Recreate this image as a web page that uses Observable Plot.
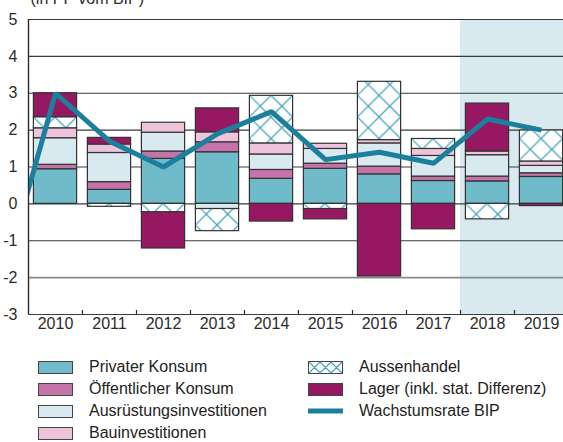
<!DOCTYPE html>
<html>
<head>
<meta charset="utf-8">
<script src="https://cdn.jsdelivr.net/npm/d3@7"></script>
<script src="https://cdn.jsdelivr.net/npm/@observablehq/plot@0.6"></script>
<style>
  html, body { margin: 0; padding: 0; background: #fff; overflow: hidden; }
  body { width: 563px; height: 442px; font-family: "Liberation Sans", Arial, Helvetica, sans-serif; color: #222; }
  #legend { position: relative; width: 563px; height: 100px; }
  .row { position: absolute; display: flex; align-items: center; height: 22px; font-size: 16px; white-space: nowrap; }
  .row svg { display: block; margin-right: 16px; }
</style>
</head>
<body>
<div id="chart"></div>
<div id="legend"></div>
<script>
// ---- data ----
const years = [2010, 2011, 2012, 2013, 2014, 2015, 2016, 2017, 2018, 2019];
const forecastYears = [2018, 2019];
const components = ["Privater Konsum", "Öffentlicher Konsum", "Ausrüstungsinvestitionen", "Bauinvestitionen", "Aussenhandel", "Lager (inkl. stat. Differenz)"];
const componentColors = ["#6fbbca", "#c574a9", "#d9e9f0", "#eec4da", "url(#hatch)", "#971862"];
const privaterKonsum      = [0.94, 0.38, 1.22, 1.40, 0.68, 0.95, 0.80, 0.62, 0.61, 0.73];
const oeffentlicherKonsum = [0.12, 0.21, 0.20, 0.27, 0.24, 0.14, 0.21, 0.12, 0.13, 0.10];
const ausruestung         = [0.72, 0.79, 0.51, -0.14, 0.42, 0.40, 0.63, 0.56, 0.58, 0.20];
const bauinvestitionen    = [0.27, 0.23, 0.27, 0.27, 0.30, 0.14, 0.09, 0.19, 0.10, 0.12];
const aussenhandel        = [0.30, -0.08, -0.23, -0.60, 1.29, -0.14, 1.58, 0.27, -0.42, 0.84];
const lager               = [0.65, 0.18, -0.98, 0.65, -0.48, -0.28, -1.97, -0.69, 1.30, -0.06];
const gdpYears  = [2009, 2010, 2011, 2012, 2013, 2014, 2015, 2016, 2017, 2018, 2019];
const gdpGrowth = [-2.2, 3.0, 1.7, 1.0, 1.9, 2.5, 1.2, 1.4, 1.1, 2.3, 2.0];
const yTicks = [-3, -2, -1, 0, 1, 2, 3, 4, 5];
const unitLabel = "(in PP vom BIP)";
const gdpLabel = "Wachstumsrate BIP";

// ---- build tables ----
const series = [privaterKonsum, oeffentlicherKonsum, ausruestung, bauinvestitionen, aussenhandel, lager];
const bars = [];
years.forEach((year, i) => {
  components.forEach((c, k) => {
    const v = series[k][i];
    if (v !== 0) bars.push({year, component: c, value: v});
  });
});
const gdp = gdpYears.map((year, i) => ({year, value: gdpGrowth[i]}));
const boundaries = years.slice(0, -1).map(y => y + 0.5);

const W = 563, H = 342, mT = 19, mB = 28, mL = 28;
const xDomain = [years[0] - 0.5, years[years.length - 1] + 0.5];
const xRange = [mL, mL + 54 * years.length];
const ink = "#2b2b2b";

const chart = Plot.plot({
  width: W,
  height: H,
  marginTop: mT,
  marginBottom: mB,
  marginLeft: mL,
  marginRight: 0,
  style: {fontFamily: "'Liberation Sans', Arial, Helvetica, sans-serif", fontSize: "16px", background: "white", color: ink},
  x: {type: "linear", domain: xDomain, range: xRange, axis: null},
  y: {domain: [yTicks[0], yTicks[yTicks.length - 1]], axis: null},
  color: {type: "ordinal", domain: components, range: componentColors},
  marks: [
    Plot.rect([forecastYears], {x1: d => d[0] - 0.5, x2: d => d[d.length - 1] + 0.5, fill: "#d9e9f0", clip: true}),
    Plot.ruleY(yTicks, {stroke: d => d === -2 ? "#8a8a8a" : "#3a3a3a", strokeWidth: d => d === -2 ? 1.6 : 1.1}),
    Plot.rectY(bars, {x1: d => d.year - 0.4, x2: d => d.year + 0.4, y: "value", fill: "component", stroke: "#333", strokeWidth: 1.2}),
    Plot.line(gdp, {x: "year", y: "value", stroke: "#1b809c", strokeWidth: 5, strokeLinejoin: "miter", strokeLinecap: "butt", clip: true}),
    Plot.ruleX([xDomain[0]], {stroke: ink, strokeWidth: 1.4}),
    Plot.ruleX(boundaries, {insetTop: H - mT - mB - 4, stroke: ink, strokeWidth: 1.2}),
    Plot.text(yTicks, {y: d => d, text: d => String(d), frameAnchor: "left", dx: -11, textAnchor: "end", fontSize: 16, fill: ink}),
    Plot.text(years, {x: d => d, text: d => String(d), frameAnchor: "bottom", dy: 14, fontSize: 16, fill: ink}),
    Plot.text([unitLabel], {text: d => d, frameAnchor: "top-left", dx: 2, dy: -16, lineAnchor: "bottom", textAnchor: "start", fontSize: 16, fill: ink})
  ]
});

// hatch pattern aligned to the bars
const NS = "http://www.w3.org/2000/svg";
function el(name, attrs, parent) {
  const e = document.createElementNS(NS, name);
  for (const k in attrs) e.setAttribute(k, attrs[k]);
  if (parent) parent.appendChild(e);
  return e;
}
const xs = d3.scaleLinear(xDomain, xRange);
const ys = d3.scaleLinear([yTicks[0], yTicks[yTicks.length - 1]], [H - mB, mT]);
const step = xs(years[1]) - xs(years[0]);
const bw = xs(years[0] + 0.4) - xs(years[0] - 0.4);
const p = bw / 2;
const defs = el("defs", {});
const pat = el("pattern", {id: "hatch", patternUnits: "userSpaceOnUse", x: xs(years[0] - 0.4), y: ys(0), width: step, height: p}, defs);
el("rect", {x: 0, y: 0, width: step, height: p, fill: "white"}, pat);
el("path", {d: `M0,0L${p},${p}M${p},0L${2*p},${p}M0,${p}L${p},0M${p},${p}L${2*p},0`, stroke: "#3fa0b9", "stroke-width": 1.2, fill: "none"}, pat);
chart.insertBefore(defs, chart.firstChild);
document.getElementById("chart").appendChild(chart);

// ---- legend ----
const legend = document.getElementById("legend");
function swatchSvg(kind, color) {
  const s = el("svg", {width: 35, height: 14});
  if (kind === "line") {
    el("rect", {x: 0, y: 4.5, width: 35, height: 5, fill: color}, s);
  } else if (kind === "hatch") {
    el("rect", {x: 0.5, y: 1.5, width: 34, height: 12, fill: "white", stroke: "#444", "stroke-width": 1}, s);
    el("path", {d: "M1,2L12,13M12,2L23,13M23,2L34,13M1,13L12,2M12,13L23,2M23,13L34,2", stroke: "#3fa0b9", "stroke-width": 1.1, fill: "none"}, s);
  } else {
    el("rect", {x: 0.5, y: 1.5, width: 34, height: 12, fill: color, stroke: "#444", "stroke-width": 1}, s);
  }
  return s;
}
const legendItems = [
  ...components.map((c, k) => ({label: c, kind: componentColors[k].startsWith("url") ? "hatch" : "box", color: componentColors[k]})),
  {label: gdpLabel, kind: "line", color: "#1b809c"}
];
const colX = [38, 308];
const rowY = [14, 36, 58, 80];
const placement = [[0,0],[0,1],[0,2],[0,3],[1,0],[1,1],[1,2]];
legendItems.forEach((item, i) => {
  const [c, r] = placement[i];
  const row = document.createElement("div");
  row.className = "row";
  row.style.left = colX[c] + "px";
  row.style.top = rowY[r] + "px";
  row.appendChild(swatchSvg(item.kind, item.color));
  const t = document.createElement("span");
  t.textContent = item.label;
  row.appendChild(t);
  legend.appendChild(row);
});
</script>
</body>
</html>
